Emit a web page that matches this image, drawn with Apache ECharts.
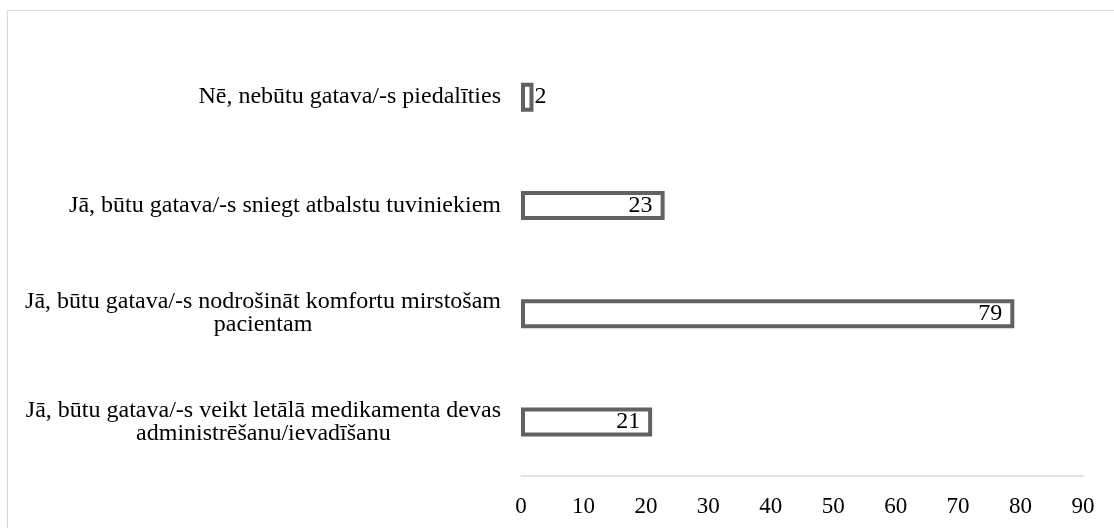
<!DOCTYPE html>
<html>
<head>
<meta charset="utf-8">
<script src="https://cdn.jsdelivr.net/npm/echarts@6/dist/echarts.min.js"></script>
<style>
  html, body { margin: 0; padding: 0; background: #fff; }
  #chart { width: 1114px; height: 528px; }
</style>
</head>
<body>
<div id="chart"></div>
<script>
// Categories, top to bottom
const categories = [
  'Nē, nebūtu gatava/-s piedalīties',
  'Jā, būtu gatava/-s sniegt atbalstu tuviniekiem',
  'Jā, būtu gatava/-s nodrošināt komfortu mirstošam\npacientam',
  'Jā, būtu gatava/-s veikt letālā medikamenta devas\nadministrēšanu/ievadīšanu'
];
const values = [2, 23, 79, 21];
const xTicks = { min: 0, max: 90, interval: 10 };

const FONT = '"Liberation Serif", "Times New Roman", serif';

const chart = echarts.init(document.getElementById('chart'), null, { renderer: 'canvas' });

const seriesData = values.map(function (v) {
  const item = { value: v };
  if (v < 5) {
    item.label = { position: 'right', distance: 1 };
  }
  return item;
});

chart.setOption({
  animation: false,
  backgroundColor: '#ffffff',
  graphic: [{
    type: 'rect',
    shape: { x: 7.5, y: 10.5, width: 1200, height: 600 },
    style: { fill: 'none', stroke: '#d9d9d9', lineWidth: 1.2 },
    silent: true,
    z: -10
  }],
  grid: { left: 521, right: 31, top: 43, bottom: 52, containLabel: false },
  xAxis: {
    type: 'value',
    min: xTicks.min,
    max: xTicks.max,
    interval: xTicks.interval,
    position: 'bottom',
    axisLine: { show: true, lineStyle: { color: '#d9d9d9', width: 1.5 } },
    axisTick: { show: false },
    splitLine: { show: false },
    axisLabel: { color: '#000', fontFamily: FONT, fontSize: 23, margin: 19 }
  },
  yAxis: {
    type: 'category',
    data: categories,
    inverse: true,
    axisLine: { show: false },
    axisTick: { show: false },
    axisLabel: {
      color: '#000',
      fontFamily: FONT,
      fontSize: 24,
      margin: 20,
      align: 'right',
      formatter: function (val) {
        return val.split('\n').map(function (l) { return '{a|' + l + '}'; }).join('\n');
      },
      rich: {
        a: { align: 'center', fontFamily: FONT, fontSize: 24, lineHeight: 23, color: '#000' }
      }
    }
  },
  series: [{
    type: 'bar',
    data: seriesData,
    barWidth: 29,
    itemStyle: { color: '#ffffff', borderColor: '#626262', borderWidth: 4 },
    label: {
      show: true,
      position: 'insideRight',
      distance: 12,
      color: '#000',
      fontFamily: FONT,
      fontSize: 24
    }
  }]
});
</script>
</body>
</html>
